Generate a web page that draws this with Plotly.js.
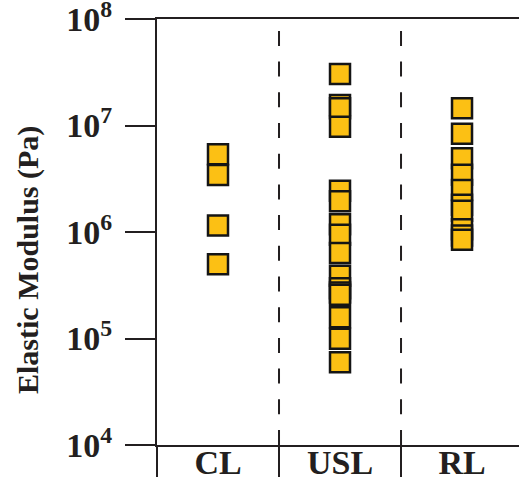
<!DOCTYPE html>
<html>
<head>
<meta charset="utf-8">
<script src="https://cdn.plot.ly/plotly-3.0.1.min.js"></script>
<style>html,body{margin:0;padding:0;background:#fff;}#chart{width:519px;height:477px;}</style>
</head>
<body>
<div id="chart"></div>
<script>
// Categories
const categories = ['CL', 'USL', 'RL'];
// Elastic modulus values (Pa), per category
const clValues = [5.37e6, 3.43e6, 1.15e6, 4.99e5];
const uslValues = [3.05e7, 1.56e7, 1.45e7, 9.73e6, 2.44e6, 1.94e6, 1.18e6, 9.42e5, 6.34e5,
                   3.89e5, 2.97e5, 2.71e5, 2.58e5, 1.58e5, 9.93e4, 6.00e4];
const rlValues = [1.45e7, 8.35e6, 4.93e6, 3.44e6, 2.48e6, 1.80e6, 1.58e6, 1.06e6, 9.29e5, 8.47e5];
// Y tick values and labels
const yTickVals = [1e4, 1e5, 1e6, 1e7, 1e8];
const yTickText = ['10<sup>4</sup>', '10<sup>5</sup>', '10<sup>6</sup>', '10<sup>7</sup>', '10<sup>8</sup>'];
const yTitle = 'Elastic Modulus (Pa)';
// Category boundaries drawn as dashed separators
const separators = [0.5, 1.5];

const ink = '#231F20';
const fill = '#FCC014';
const serif = 'Liberation Serif';

const series = [clValues, uslValues, rlValues];
const traces = series.map((vals, i) => ({
  type: 'scatter',
  mode: 'markers',
  x: vals.map(() => categories[i]),
  y: vals,
  marker: {symbol: 'square', size: 20, color: fill, line: {color: '#151515', width: 2.5}},
  hoverinfo: 'y',
  showlegend: false,
  cliponaxis: false
}));

const shapes = separators.map(s => ({
  type: 'line', xref: 'x', yref: 'paper',
  x0: s, x1: s, y0: 0, y1: 1,
  line: {color: ink, width: 2, dash: '15px,15.7px'},
  layer: 'below'
}));

const layout = {
  width: 519, height: 477,
  margin: {l: 157, r: 0, t: 19, b: 32},
  paper_bgcolor: '#fff', plot_bgcolor: '#fff',
  showlegend: false,
  font: {family: serif, color: ink},
  xaxis: {
    type: 'category',
    categoryorder: 'array', categoryarray: categories,
    range: [-0.5, 2.467],
    tickson: 'boundaries',
    ticks: 'outside', ticklen: 32, tickwidth: 2, tickcolor: ink,
    showline: true, linewidth: 2, linecolor: ink, mirror: true,
    showgrid: false, zeroline: false,
    tickfont: {family: serif, size: 34, weight: 'bold', color: ink},
    ticklabelstandoff: -14,
    ticklabeloverflow: 'allow',
    fixedrange: true
  },
  yaxis: {
    type: 'log',
    range: [3.99999, 8.00001],
    tickvals: yTickVals, ticktext: yTickText,
    ticks: 'outside', ticklen: 30, tickwidth: 2, tickcolor: ink,
    showline: true, linewidth: 2, linecolor: ink,
    showgrid: false, zeroline: false,
    tickfont: {family: serif, size: 34, weight: 'bold', color: ink},
    ticklabelstandoff: 6,
    ticklabeloverflow: 'allow',
    fixedrange: true
  },
  annotations: [{
    text: yTitle, textangle: -90,
    xref: 'paper', yref: 'paper',
    x: (28 - 157) / 362, y: (445 - 260) / 426,
    xanchor: 'center', yanchor: 'middle', showarrow: false,
    font: {family: serif, size: 30, weight: 'bold', color: ink}
  }],
  shapes: shapes
};

Plotly.newPlot('chart', traces, layout, {displayModeBar: false, staticPlot: true});
</script>
</body>
</html>
